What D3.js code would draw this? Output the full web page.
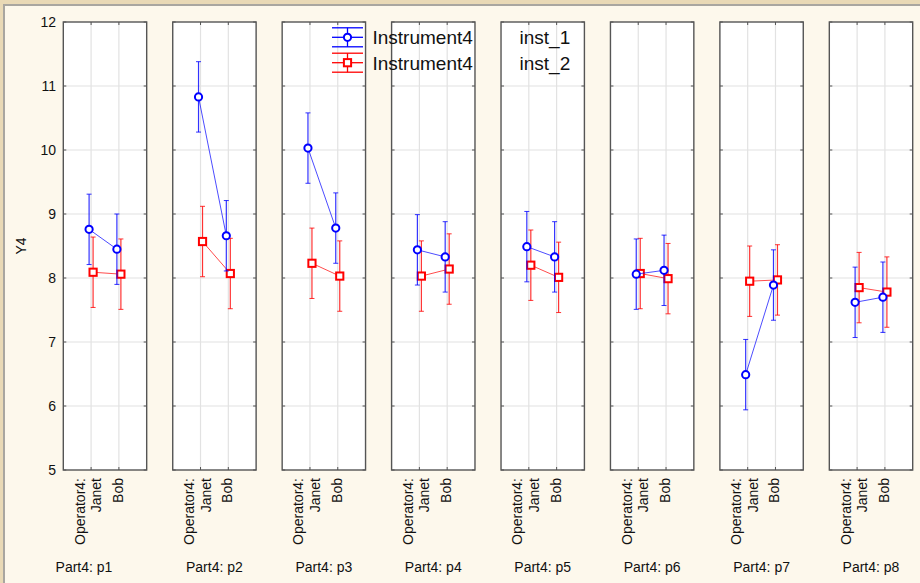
<!DOCTYPE html>
<html>
<head>
<meta charset="utf-8">
<script src="https://cdn.jsdelivr.net/npm/d3@7"></script>
<style>
  body { margin: 0; background: #e8d8b4; }
  svg { display: block; font-family: "Liberation Sans", Arial, sans-serif; }
</style>
</head>
<body>
<svg width="920" height="583"></svg>
<script>
// data
const parts = ['p1', 'p2', 'p3', 'p4', 'p5', 'p6', 'p7', 'p8'];
const operators = ['Janet', 'Bob'];
const inst1Janet = [8.76, 10.83, 10.03, 8.44, 8.49, 8.06, 6.49, 7.62];
const inst1Bob   = [8.45, 8.66, 8.78, 8.33, 8.33, 8.12, 7.89, 7.70];
const inst2Janet = [8.09, 8.57, 8.23, 8.03, 8.20, 8.07, 7.95, 7.85];
const inst2Bob   = [8.06, 8.07, 8.03, 8.14, 8.01, 7.99, 7.97, 7.78];
const ciHalf = 0.55;
const yTicks = [5, 6, 7, 8, 9, 10, 11, 12];

const series = [
  {name: 'inst_2', color: '#ff0000', shape: 'square', offset: 2, janet: inst2Janet, bob: inst2Bob},
  {name: 'inst_1', color: '#0000ff', shape: 'circle', offset: -2, janet: inst1Janet, bob: inst1Bob}
];

const svg = d3.select('svg');
const width = +svg.attr('width');
const height = +svg.attr('height');

// parchment frame
svg.append('rect').attr('width', width).attr('height', height).attr('fill', '#e9d9b6');
svg.append('rect').attr('x', 4).attr('y', 5).attr('width', width + 10).attr('height', height + 10)
  .attr('fill', '#fdf8ec').attr('stroke', '#a9a6a0').attr('stroke-width', 2);

const x = d3.scaleBand().domain(parts).range([63.3, 912.7]).paddingInner(0.238);
const bw = x.bandwidth();
const xo = d3.scalePoint().domain(operators).range([0, bw]).padding(1);
const y = d3.scaleLinear().domain([5, 12]).range([470, 22]);

// y tick labels
svg.append('g').selectAll('text').data(yTicks).enter().append('text')
  .attr('x', 56).attr('y', d => y(d) + 5)
  .attr('text-anchor', 'end').attr('font-size', 14).attr('fill', '#111')
  .text(d => d);

svg.append('text')
  .attr('transform', `translate(26,${(y(5) + y(12)) / 2}) rotate(-90)`)
  .attr('text-anchor', 'middle').attr('font-size', 14).attr('fill', '#111')
  .text('Y4');

const panel = svg.append('g').selectAll('g').data(parts).enter().append('g')
  .attr('transform', d => `translate(${x(d)},0)`);

panel.append('rect').attr('x', 0).attr('y', y(12)).attr('width', bw).attr('height', y(5) - y(12))
  .attr('fill', '#fff');

// grid
panel.each(function() {
  const g = d3.select(this);
  g.selectAll('.hg').data(yTicks.slice(1, -1)).enter().append('line')
    .attr('x1', 0).attr('x2', bw).attr('y1', d => y(d)).attr('y2', d => y(d))
    .attr('stroke', '#e2e2e2').attr('stroke-width', 1.2);
  g.selectAll('.vg').data(operators).enter().append('line')
    .attr('x1', d => xo(d)).attr('x2', d => xo(d)).attr('y1', y(12)).attr('y2', y(5))
    .attr('stroke', '#e2e2e2').attr('stroke-width', 1.2);
  // small ticks on frame
  g.selectAll('.tl').data(yTicks).enter().append('line')
    .attr('x1', 0).attr('x2', 3).attr('y1', d => y(d)).attr('y2', d => y(d)).attr('stroke', '#555');
  g.selectAll('.tr').data(yTicks).enter().append('line')
    .attr('x1', bw - 3).attr('x2', bw).attr('y1', d => y(d)).attr('y2', d => y(d)).attr('stroke', '#555');
  g.selectAll('.tt').data(operators).enter().append('line')
    .attr('x1', d => xo(d)).attr('x2', d => xo(d)).attr('y1', y(12)).attr('y2', y(12) + 3).attr('stroke', '#555');
  g.selectAll('.tb').data(operators).enter().append('line')
    .attr('x1', d => xo(d)).attr('x2', d => xo(d)).attr('y1', y(5)).attr('y2', y(5) - 3).attr('stroke', '#555');
});

panel.append('rect').attr('x', 0).attr('y', y(12)).attr('width', bw).attr('height', y(5) - y(12))
  .attr('fill', 'none').attr('stroke', '#555').attr('stroke-width', 1.4);

// operator labels
panel.append('text')
  .attr('transform', `translate(${xo('Janet') - 11.5},478) rotate(-90)`)
  .attr('text-anchor', 'end').attr('dominant-baseline', 'central')
  .attr('font-size', 14).attr('fill', '#111').text('Operator4:');
panel.append('text')
  .attr('transform', `translate(${xo('Janet') + 5},478) rotate(-90)`)
  .attr('text-anchor', 'end').attr('dominant-baseline', 'central')
  .attr('font-size', 14).attr('fill', '#111').text('Janet');
panel.append('text')
  .attr('transform', `translate(${xo('Bob') - 1},478) rotate(-90)`)
  .attr('text-anchor', 'end').attr('dominant-baseline', 'central')
  .attr('font-size', 14).attr('fill', '#111').text('Bob');

panel.append('text')
  .attr('x', (d, i) => bw / 2 - (i === 0 ? 21 : 0)).attr('y', 571.5)
  .attr('text-anchor', 'middle').attr('font-size', 14).attr('fill', '#111')
  .text(d => 'Part4: ' + d);

// series
series.forEach(s => {
  panel.each(function(d, i) {
    const g = d3.select(this);
    const pts = [
      {x: xo('Janet') + s.offset, v: s.janet[i]},
      {x: xo('Bob') + s.offset, v: s.bob[i]}
    ];
    g.append('path')
      .attr('d', d3.line().x(p => p.x).y(p => y(p.v))(pts))
      .attr('fill', 'none').attr('stroke', s.color).attr('stroke-opacity', 0.7).attr('stroke-width', 1);
    pts.forEach(p => {
      g.append('line').attr('x1', p.x).attr('x2', p.x)
        .attr('y1', y(p.v - ciHalf)).attr('y2', y(p.v + ciHalf))
        .attr('stroke', s.color).attr('stroke-opacity', 0.8).attr('stroke-width', 1.2);
      [p.v - ciHalf, p.v + ciHalf].forEach(c => {
        g.append('line').attr('x1', p.x - 2.5).attr('x2', p.x + 2.5)
          .attr('y1', y(c)).attr('y2', y(c))
          .attr('stroke', s.color).attr('stroke-opacity', 0.8).attr('stroke-width', 1);
      });
      if (s.shape === 'circle') {
        g.append('circle').attr('cx', p.x).attr('cy', y(p.v)).attr('r', 3.6)
          .attr('fill', '#fff').attr('stroke', s.color).attr('stroke-width', 2);
      } else {
        g.append('rect').attr('x', p.x - 3.6).attr('y', y(p.v) - 3.6).attr('width', 7.2).attr('height', 7.2)
          .attr('fill', '#fff').attr('stroke', s.color).attr('stroke-width', 2);
      }
    });
  });
});

// legend
const legend = svg.append('g').selectAll('g').data(series.slice().reverse()).enter().append('g')
  .attr('transform', (d, i) => `translate(347.5,${37.3 + i * 25.4})`);
legend.each(function(s) {
  const g = d3.select(this);
  [-9.5, 0, 9.5].forEach(dy => {
    g.append('line').attr('x1', -15.5).attr('x2', 15.5).attr('y1', dy).attr('y2', dy)
      .attr('stroke', s.color).attr('stroke-width', 1.3);
  });
  g.append('line').attr('x1', 0).attr('x2', 0).attr('y1', -9.5).attr('y2', 9.5)
    .attr('stroke', s.color).attr('stroke-width', 1.3);
  if (s.shape === 'circle') {
    g.append('circle').attr('r', 3.6).attr('fill', '#fff').attr('stroke', s.color).attr('stroke-width', 2);
  } else {
    g.append('rect').attr('x', -3.6).attr('y', -3.6).attr('width', 7.2).attr('height', 7.2)
      .attr('fill', '#fff').attr('stroke', s.color).attr('stroke-width', 2);
  }
  g.append('text').attr('x', 25).attr('y', 7).attr('font-size', 19).attr('fill', '#111').text('Instrument4');
  g.append('text').attr('x', 172).attr('y', 7).attr('font-size', 19).attr('fill', '#111').text(s.name);
});
</script>
</body>
</html>
